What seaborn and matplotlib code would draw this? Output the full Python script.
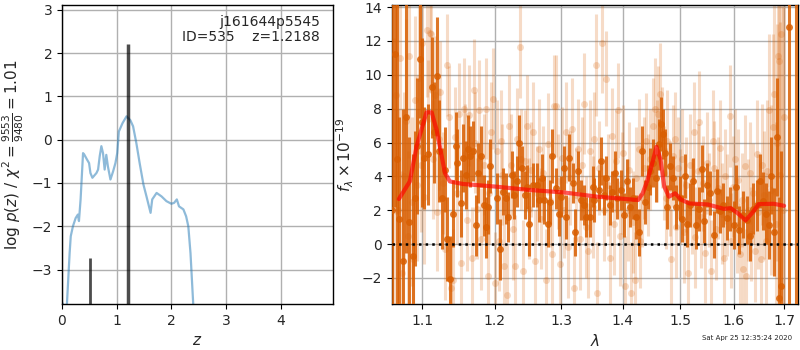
import matplotlib
matplotlib.use('Agg')
import matplotlib.pyplot as plt
import seaborn as sns
from matplotlib.ticker import FixedLocator, FixedFormatter, NullLocator

sns.set_style("ticks")
plt.rcParams["font.family"] = ["DejaVu Sans"]
plt.rcParams["mathtext.fontset"] = "dejavusans"

# ---- left panel: log p(z) ----
pz_z = [0.00, 0.04, 0.09, 0.14, 0.16, 0.20, 0.25, 0.29, 0.31, 0.34, 0.385, 0.41, 0.458,
        0.495, 0.52, 0.556, 0.63, 0.66, 0.69, 0.72, 0.75, 0.78, 0.81, 0.84, 0.886, 0.935,
        0.977, 1.01, 1.04, 1.106, 1.18, 1.25, 1.30, 1.36, 1.42, 1.49, 1.545, 1.62, 1.65,
        1.73, 1.82, 1.91, 2.00, 2.05, 2.10, 2.14, 2.22, 2.27, 2.31, 2.35, 2.40, 2.43]
pz_log = [-3.76, -3.85, -3.80, -2.61, -2.23, -2.00, -1.81, -1.73, -1.88, -1.38, -0.31, -0.35,
          -0.46, -0.54, -0.77, -0.88, -0.77, -0.69, -0.38, -0.15, -0.31, -0.69, -0.35, -0.62,
          -0.92, -0.73, -0.54, -0.31, 0.19, 0.38, 0.54, 0.45, 0.31, -0.08, -0.54, -1.04,
          -1.31, -1.69, -1.38, -1.23, -1.31, -1.42, -1.48, -1.46, -1.38, -1.54, -1.61, -1.77,
          -2.00, -2.62, -3.80, -4.60]
draw_z = [0.51, 1.21]
draw_top = [-2.73, 2.22]
draw_width = [2.0, 2.5]

# ---- right panel: spectrum ----
bin_wave = [1.0605, 1.0642, 1.0665, 1.0700, 1.0740, 1.0785, 1.0829, 1.0873, 1.0900, 1.0926,
            1.0970, 1.1000, 1.1025, 1.1080, 1.1123, 1.1155, 1.1190, 1.1225, 1.1265, 1.1300,
            1.1335, 1.1365, 1.1410, 1.1450, 1.1470, 1.1520, 1.1550, 1.1590, 1.1620, 1.1650,
            1.1695, 1.1730, 1.1760, 1.1800, 1.1840, 1.1870, 1.1900, 1.1935, 1.2040, 1.2070,
            1.2120, 1.2160, 1.2200, 1.2250, 1.2280, 1.2320, 1.2360, 1.2400, 1.2450, 1.2470,
            1.2510, 1.2560, 1.2620, 1.2650, 1.2700, 1.2730, 1.2790, 1.2830, 1.2860, 1.2920,
            1.2960, 1.2990, 1.3040, 1.3080, 1.3130, 1.3180, 1.3210, 1.3270, 1.3320, 1.3360,
            1.3400, 1.3460, 1.3500, 1.3530, 1.3600, 1.3640, 1.3680, 1.3720, 1.3780, 1.3820,
            1.3870, 1.3910, 1.3970, 1.4020, 1.4070, 1.4130, 1.4170, 1.4230, 1.4270, 1.4330,
            1.4380, 1.4430, 1.4470, 1.4520, 1.4570, 1.4620, 1.4660, 1.4690, 1.4730, 1.4770,
            1.4820, 1.4870, 1.4930, 1.4990, 1.5040, 1.5080, 1.5130, 1.5180, 1.5240, 1.5290,
            1.5340, 1.5400, 1.5440, 1.5500, 1.5550, 1.5630, 1.5690, 1.5740, 1.5800, 1.5870,
            1.5930, 1.6000, 1.6040, 1.6110, 1.6170, 1.6250, 1.6320, 1.6380, 1.6450, 1.6510,
            1.6580, 1.6630, 1.6700, 1.6740, 1.6790, 1.6860, 1.6900, 1.6940, 1.7098, 1.7250]
bin_flux = [2.0, 11.2, 5.0, 1.5, -1.0, 7.5, 1.3, -0.7, 2.7, 5.8,
            10.95, 7.2, 5.1, 5.3, 9.25, 6.6, 9.9, 5.5, 2.7, 4.4,
            0.3, -2.05, 1.8, 5.8, 4.8, 2.4, 5.1, 4.1, 5.6, 5.2,
            5.5, 1.1, 4.2, 5.2, 2.3, 1.0, 2.2, 4.6, 2.7, -0.3,
            3.1, 2.7, 1.6, 4.1, 2.9, 3.7, 6.0, 4.5, 2.9, 3.4,
            1.2, 3.5, 3.5, 2.6, 3.9, 2.6, 1.2, 2.5, 5.2, 3.3,
            1.8, 2.8, 4.5, 1.6, 5.1, 3.6, 0.7, 4.3, 2.6, 2.3,
            1.6, 1.6, 3.4, 2.6, 3.2, 4.9, 2.9, 3.9, 2.3, 3.1,
            4.2, 2.7, 3.2, 1.7, 3.7, 2.2, 2.7, 1.6, 0.7, 5.5,
            2.5, 3.4, 4.3, 4.8, 3.9, 5.9, 7.1, 6.5, 5.4, 2.2,
            4.6, 3.9, 2.2, 2.7, 1.5, 4.0, 1.2, 2.3, 3.7, 1.1,
            2.1, 4.45, 1.34, 3.5, 3.0, 0.55, 3.15, 1.93, 2.3, 1.53,
            2.1, 1.13, 3.35, 0.84, 1.73, 1.43, 0.5, 2.1, 2.3, 3.74,
            2.56, 1.8, 1.13, 4.05, 0.74, 6.33, -3.2, -2.5, 12.85, 30.0]
bin_err = [20, 9, 12, 6, 9, 8, 5, 6, 4, 4,
           3.5, 5, 3, 3, 3, 3, 3.5, 3, 3, 2.5,
           2.5, 2.5, 2, 2, 2, 2, 2, 2, 2, 1.8,
           1.8, 1.8, 1.8, 1.8, 1.8, 1.8, 1.6, 1.6, 1.5, 1.8,
           1.4, 1.5, 1.5, 1.4, 1.4, 1.5, 1.6, 1.3, 1.4, 1.3,
           1.9, 1.3, 1.3, 1.3, 1.4, 1.4, 1.4, 1.3, 1.6, 1.2,
           1.3, 1.2, 1.3, 1.3, 1.4, 1.2, 1.4, 1.2, 1.2, 1.2,
           1.2, 1.2, 1.2, 1.3, 1.2, 1.4, 1.2, 1.3, 1.2, 1.2,
           1.3, 1.2, 1.2, 1.3, 1.3, 1.2, 1.2, 1.3, 1.4, 1.5,
           1.3, 1.3, 1.4, 1.4, 1.4, 1.5, 1.6, 1.5, 1.4, 1.3,
           1.4, 1.3, 1.3, 1.3, 1.4, 1.3, 1.4, 1.3, 1.4, 1.4,
           1.3, 1.4, 1.3, 1.3, 1.3, 1.4, 1.3, 1.3, 1.3, 1.3,
           1.3, 1.4, 1.3, 1.4, 1.4, 1.4, 1.5, 1.5, 1.5, 1.6,
           1.7, 1.8, 2.0, 2.3, 2.6, 3.5, 6.0, 8.0, 20, 40]

pix_wave = [1.063, 1.066, 1.068, 1.071, 1.073, 1.076, 1.078, 1.081, 1.083, 1.086,
            1.088, 1.090, 1.093, 1.095, 1.098, 1.100, 1.102, 1.1055, 1.108, 1.110,
            1.112, 1.114, 1.117, 1.119, 1.122, 1.124, 1.127, 1.131, 1.1335, 1.136,
            1.139, 1.141, 1.144, 1.147, 1.150, 1.153, 1.156, 1.158, 1.161, 1.164,
            1.167, 1.170, 1.172, 1.175, 1.178, 1.181, 1.184, 1.187, 1.190, 1.192,
            1.195, 1.198, 1.200, 1.203, 1.206, 1.209, 1.211, 1.214, 1.218, 1.221,
            1.224, 1.227, 1.230, 1.233, 1.2366, 1.239, 1.242, 1.245, 1.248, 1.251,
            1.254, 1.257, 1.260, 1.263, 1.266, 1.269, 1.272, 1.276, 1.279, 1.282,
            1.285, 1.289, 1.292, 1.295, 1.298, 1.301, 1.304, 1.307, 1.311, 1.314,
            1.317, 1.320, 1.323, 1.327, 1.330, 1.333, 1.336, 1.340, 1.343, 1.346,
            1.350, 1.353, 1.356, 1.358, 1.361, 1.365, 1.368, 1.372, 1.375, 1.378,
            1.382, 1.385, 1.388, 1.392, 1.395, 1.398, 1.401, 1.404, 1.408, 1.411,
            1.414, 1.417, 1.420, 1.423, 1.427, 1.430, 1.433, 1.437, 1.440, 1.444,
            1.447, 1.451, 1.455, 1.458, 1.461, 1.464, 1.467, 1.471, 1.474, 1.477,
            1.481, 1.484, 1.487, 1.490, 1.493, 1.497, 1.500, 1.504, 1.507, 1.511,
            1.514, 1.518, 1.521, 1.525, 1.528, 1.532, 1.535, 1.539, 1.542, 1.546,
            1.549, 1.553, 1.556, 1.560, 1.563, 1.567, 1.570, 1.574, 1.577, 1.581,
            1.584, 1.588, 1.592, 1.595, 1.599, 1.602, 1.606, 1.609, 1.613, 1.616,
            1.618, 1.621, 1.624, 1.627, 1.631, 1.634, 1.638, 1.641, 1.645, 1.648,
            1.653, 1.656, 1.659, 1.663, 1.666, 1.670, 1.673, 1.677, 1.680, 1.683,
            1.686, 1.688, 1.690, 1.692, 1.694, 1.697, 1.700]
pix_flux = [4.2, 8.8, 2.0, 11.0, -1.7, 4.0, 7.3, 0.5, 11.1, 2.5,
            -0.9, 8.5, 3.5, 9.8, 4.7, 11.9, 2.8, 12.66, 7.4, 12.46,
            12.4, 5.0, 8.8, 1.9, 6.2, 9.0, 3.6, -0.3, 10.57, 7.5,
            -2.6, -2.1, 6.3, 3.0, 7.7, -1.1, 8.0, 5.3, 1.4, 7.6,
            -0.8, 9.1, 6.0, 2.1, 7.9, 0.3, 4.7, 8.0, -1.9, 3.0,
            6.6, 8.6, -2.3, 5.5, 0.2, 6.1, 4.1, -1.3, -3.0, 7.0,
            4.7, 0.9, -1.3, 6.2, 11.63, 5.0, -1.6, 4.9, 7.0, 2.1,
            4.4, 6.6, -1.0, 3.0, 5.6, 1.5, 4.2, -2.1, 5.9, 2.6,
            -0.6, 8.17, 8.17, 3.7, -1.2, 5.1, 2.0, 6.6, -0.2, 3.9,
            6.8, -2.6, 2.9, 5.6, 0.3, 4.7, 8.3, 1.0, -0.4, 5.5,
            2.2, 6.2, 10.57, -2.9, 4.5, 11.9, 2.0, 9.78, 3.5, -0.8,
            6.4, 1.2, 4.9, 7.9, 0.5, 3.6, 5.4, -2.5, 2.0, 4.4,
            -2.9, 1.3, -2.1, 3.9, 5.6, 0.2, 2.8, 4.5, 6.1, 3.5,
            5.0, 7.0, 8.0, 5.5, 7.7, 8.85, 6.3, 4.2, 2.7, 6.1,
            3.3, -0.9, 5.2, 6.2, 1.0, 4.5, 2.8, 5.0, 0.7, 3.5,
            -1.7, 4.7, 2.2, 6.6, 0.4, 4.3, 7.2, 1.6, 3.6, -0.5,
            4.8, 2.6, -1.6, 6.1, 4.5, 0.9, 3.3, 5.7, 1.8, -0.8,
            4.0, 2.3, 7.58, 0.2, 3.4, 5.0, 1.1, 3.8, -0.6, 2.6,
            -1.5, 4.6, -1.9, 2.0, 4.2, 0.6, 3.0, -0.4, 5.3, 1.9,
            -0.9, 4.7, 2.9, 0.2, 4.3, 7.9, 3.2, 6.9, 8.87, 1.2,
            6.0, 11.1, 10.8, 4.1, 12.4, 2.0, 7.5]
pix_err = [8, 7, 6, 8, 6, 5, 6, 5, 6, 5,
           5, 5, 4.5, 4.5, 4, 4, 4, 4, 3.5, 3.5,
           3.5, 3.5, 3.5, 3.5, 3, 3, 3, 3, 3, 3,
           3, 3, 3, 3, 3, 3, 3, 3, 3, 3,
           3, 3, 3, 3, 3, 3, 3, 3, 3, 3,
           3, 3, 3, 3, 3, 3, 3, 3, 3, 3,
           3, 3, 3, 3, 3, 3, 3, 3, 3, 3,
           2.8, 3, 3, 2.8, 3, 3, 2.8, 3, 3, 2.8,
           3, 3, 3, 2.8, 3, 3, 2.8, 3, 3, 2.8,
           3, 3, 2.8, 3, 3, 2.8, 3, 3, 2.8, 3,
           3, 2.8, 3, 3, 2.8, 3, 3, 2.8, 3, 3,
           2.8, 3, 3, 2.8, 3, 3, 2.8, 3, 3, 2.8,
           3, 3, 2.8, 3, 3, 2.8, 3, 3, 2.8, 3,
           3, 2.8, 3, 3, 2.8, 3, 3, 2.8, 3, 3,
           2.8, 3, 3, 2.8, 3, 3, 2.8, 3, 3, 2.8,
           3, 3, 2.8, 3, 3, 2.8, 3, 3, 2.8, 3,
           3, 2.8, 3, 3, 2.8, 3, 3, 2.8, 3, 3,
           2.8, 3, 3, 2.8, 3, 3, 2.8, 3, 3, 2.8,
           3, 3, 2.8, 3, 3, 2.8, 3, 3, 3.2, 3.4,
           3.5, 3.6, 3.8, 4, 4.2, 4.5, 5, 5.5, 6, 6,
           7, 7, 8, 9, 10, 12, 14]

model_wave = [1.0693, 1.0835, 1.0923, 1.1055, 1.1123, 1.1190, 1.1303, 1.1370, 1.1550,
              1.2000, 1.2500, 1.3040, 1.3580, 1.4260, 1.4340, 1.4420, 1.4500, 1.4580,
              1.4650, 1.4716, 1.4800, 1.4910, 1.5020, 1.5170, 1.5510, 1.5810, 1.5940,
              1.6070, 1.6230, 1.6360, 1.6490, 1.6790, 1.7000]
model_flux = [2.66, 3.70, 5.77, 7.78, 7.78, 6.75, 4.19, 3.70, 3.55,
              3.40, 3.20, 3.05, 2.80, 2.60, 3.00, 3.75, 4.70, 5.75,
              5.00, 3.40, 2.80, 3.00, 2.62, 2.40, 2.34, 2.08, 2.12,
              1.84, 1.40, 1.84, 2.36, 2.38, 2.26]

obj_name = "j161644p5545"
obj_id = 535
obj_z = 1.2188
chi2_num, chi2_den = 9553, 9480
timestamp = "Sat Apr 25 12:35:24 2020"

spec_color = "#d95f02"
lam_ticks = [1.1, 1.2, 1.3, 1.4, 1.5, 1.6, 1.7]

fig = plt.figure(figsize=(8, 3.5), dpi=100)
ax1 = fig.add_axes([0.0775, 0.131, 0.339, 0.855])
ax2 = fig.add_axes([0.4895, 0.131, 0.5085, 0.855])

# left: p(z)
sns.lineplot(x=pz_z, y=pz_log, sort=False, ax=ax1, color="#1f77b4", alpha=0.5, lw=1.6)
for zz, top, w in zip(draw_z, draw_top, draw_width):
    ax1.vlines(zz, -3.8, top, color="k", alpha=0.7, lw=w)
ax1.set_xlim(0, 4.96)
ax1.set_ylim(-3.8, 3.115)
ax1.set_xticks([0, 1, 2, 3, 4])
ax1.set_yticks([-3, -2, -1, 0, 1, 2, 3])
ax1.set_xlabel(r"$z$", fontsize=11)
ax1.set_ylabel(r"$\log\,p(z)$ / $\chi^2=\frac{%d}{%d}=%.2f$"
               % (chi2_num, chi2_den, chi2_num / chi2_den), fontsize=11)
ax1.text(0.95, 0.965, "%s\nID=%d    z=%.4f" % (obj_name, obj_id, obj_z),
         transform=ax1.transAxes, ha="right", va="top", fontsize=10, linespacing=1.1)

# right: spectrum
ax2.errorbar(pix_wave, pix_flux, yerr=pix_err, fmt="o", color=spec_color, alpha=0.22,
             markersize=5, elinewidth=2.2, capsize=0, markeredgewidth=0, zorder=2)
ax2.errorbar(bin_wave, bin_flux, yerr=bin_err, fmt="o", color=spec_color, alpha=0.85,
             markersize=5, elinewidth=2.2, capsize=0, markeredgewidth=0, zorder=3)
sns.lineplot(x=model_wave, y=model_flux, sort=False, ax=ax2, color="r", alpha=0.65,
             lw=3, zorder=4)
ax2.axhline(0, color="k", linestyle=":", lw=1.8, zorder=5)
ax2.set_xscale("log")
ax2.set_xlim(1.06, 1.7295)
ax2.set_ylim(-3.55, 14.13)
ax2.xaxis.set_major_locator(FixedLocator(lam_ticks))
ax2.xaxis.set_major_formatter(FixedFormatter([str(t) for t in lam_ticks]))
ax2.xaxis.set_minor_locator(NullLocator())
ax2.set_yticks([-2, 0, 2, 4, 6, 8, 10, 12, 14])
ax2.set_xlabel(r"$\lambda$", fontsize=11)
ax2.set_ylabel(r"$f_\lambda\times10^{-19}$", fontsize=11)

for ax in (ax1, ax2):
    ax.grid(True, color="#b0b0b0", lw=1)
    ax.set_axisbelow(True)
    ax.tick_params(labelsize=10, direction="out", length=3.5, color="k")
    for s in ax.spines.values():
        s.set_color("k")
        s.set_linewidth(1)

fig.text(0.99, 0.025, timestamp, ha="right", va="bottom", fontsize=5)

fig.savefig("out.png", dpi=100)
